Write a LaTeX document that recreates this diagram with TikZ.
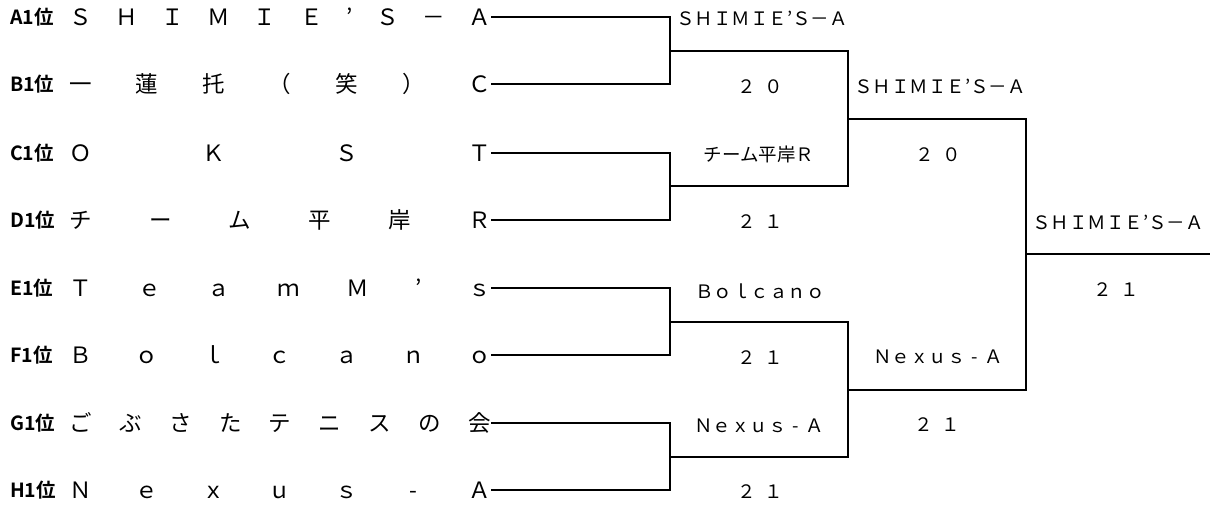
\documentclass[tikz,border=0pt]{standalone}
\usepackage{fontspec}
\setmainfont{Noto Sans CJK JP}[BoldFont={Noto Sans CJK JP Bold}]
\newcommand{\dsh}{\makebox[1em][c]{-}}
\begin{document}
\begin{tikzpicture}[x=1pt,y=-1pt,
  seed/.style={anchor=west, inner sep=0pt, font=\fontsize{19.5}{19.5}\selectfont\bfseries, text height=14.6pt, text depth=0pt},
  team/.style={anchor=west, inner sep=0pt, font=\fontsize{22.5}{22.5}\selectfont, text height=16.9pt, text depth=0pt},
  lab/.style={inner sep=0pt, font=\fontsize{18.5}{18.5}\selectfont, text height=13.9pt, text depth=0pt},
  wire/.style={line width=2pt, line join=miter}]
\useasboundingbox (0,0) rectangle (1210,504);
% seeds
\node[seed] (sA) at (10,17) {A1位};
\node[seed] (sB) at (10,84) {B1位};
\node[seed] (sC) at (10,153) {C1位};
\node[seed] (sD) at (10,220) {D1位};
\node[seed] (sE) at (10,288) {E1位};
\node[seed] (sF) at (10,355) {F1位};
\node[seed] (sG) at (10,423) {G1位};
\node[seed] (sH) at (10,490) {H1位};
% teams
\node[team] (tA) at (69,17) {\makebox[422pt][s]{Ｓ\hfill Ｈ\hfill Ｉ\hfill Ｍ\hfill Ｉ\hfill Ｅ\hfill ’\hfill Ｓ\hfill －\hfill Ａ}};
\node[team] (tB) at (69,84) {\makebox[422pt][s]{一\hfill 蓮\hfill 托\hfill （\hfill 笑\hfill ）\hfill Ｃ}};
\node[team] (tC) at (69,153) {\makebox[422pt][s]{Ｏ\hfill Ｋ\hfill Ｓ\hfill Ｔ}};
\node[team] (tD) at (69,220) {\makebox[422pt][s]{チ\hfill ー\hfill ム\hfill 平\hfill 岸\hfill Ｒ}};
\node[team] (tE) at (69,288) {\makebox[422pt][s]{Ｔ\hfill ｅ\hfill ａ\hfill ｍ\hfill Ｍ\hfill ’\hfill ｓ}};
\node[team] (tF) at (69,355) {\makebox[422pt][s]{Ｂ\hfill ｏ\hfill ｌ\hfill ｃ\hfill ａ\hfill ｎ\hfill ｏ}};
\node[team] (tG) at (69,423) {\makebox[422pt][s]{ご\hfill ぶ\hfill さ\hfill た\hfill テ\hfill ニ\hfill ス\hfill の\hfill 会}};
\node[team] (tH) at (69,490) {\makebox[422pt][s]{Ｎ\hfill ｅ\hfill ｘ\hfill ｕ\hfill ｓ\hfill \dsh\hfill Ａ}};
% junctions
\coordinate (j1) at (670,51);
\coordinate (j2) at (670,186);
\coordinate (j3) at (670,322);
\coordinate (j4) at (670,457);
\coordinate (k1) at (848,119);
\coordinate (k2) at (848,390);
\coordinate (f1) at (1026,254);
\coordinate (fin) at (1210,254);
% wires
\draw[wire] (tA.east) -| (j1) |- (tB.east);
\draw[wire] (tC.east) -| (j2) |- (tD.east);
\draw[wire] (tE.east) -| (j3) |- (tF.east);
\draw[wire] (tG.east) -| (j4) |- (tH.east);
\draw[wire] (j1) -| (k1) |- (j2);
\draw[wire] (j3) -| (k2) |- (j4);
\draw[wire] (k1) -| (f1) |- (k2);
\draw[wire] (f1) -- (fin);
% round 1 labels
\node[lab] (w1) at (762,19) {ＳＨＩＭＩＥ’Ｓ－Ａ};
\node[lab] (c1) at (760,87) {２\hspace{0.46em}０};
\node[lab] (w2) at (759,155) {チーム平岸Ｒ};
\node[lab] (c2) at (760,222) {２\hspace{0.46em}１};
\node[lab] (w3) at (760,292) {Ｂｏｌｃａｎｏ};
\node[lab] (c3) at (760,358) {２\hspace{0.46em}１};
\node[lab] (w4) at (759,426) {Ｎｅｘｕｓ\dsh Ａ};
\node[lab] (c4) at (760,492) {２\hspace{0.46em}１};
% round 2 labels
\node[lab] (w5) at (940,87) {ＳＨＩＭＩＥ’Ｓ－Ａ};
\node[lab] (c5) at (938,155) {２\hspace{0.46em}０};
\node[lab] (w6) at (938,357) {Ｎｅｘｕｓ\dsh Ａ};
\node[lab] (c6) at (937,425) {２\hspace{0.46em}１};
% final
\node[lab] (w7) at (1118,223) {ＳＨＩＭＩＥ’Ｓ－Ａ};
\node[lab] (c7) at (1116,290) {２\hspace{0.46em}１};
\end{tikzpicture}
\end{document}
